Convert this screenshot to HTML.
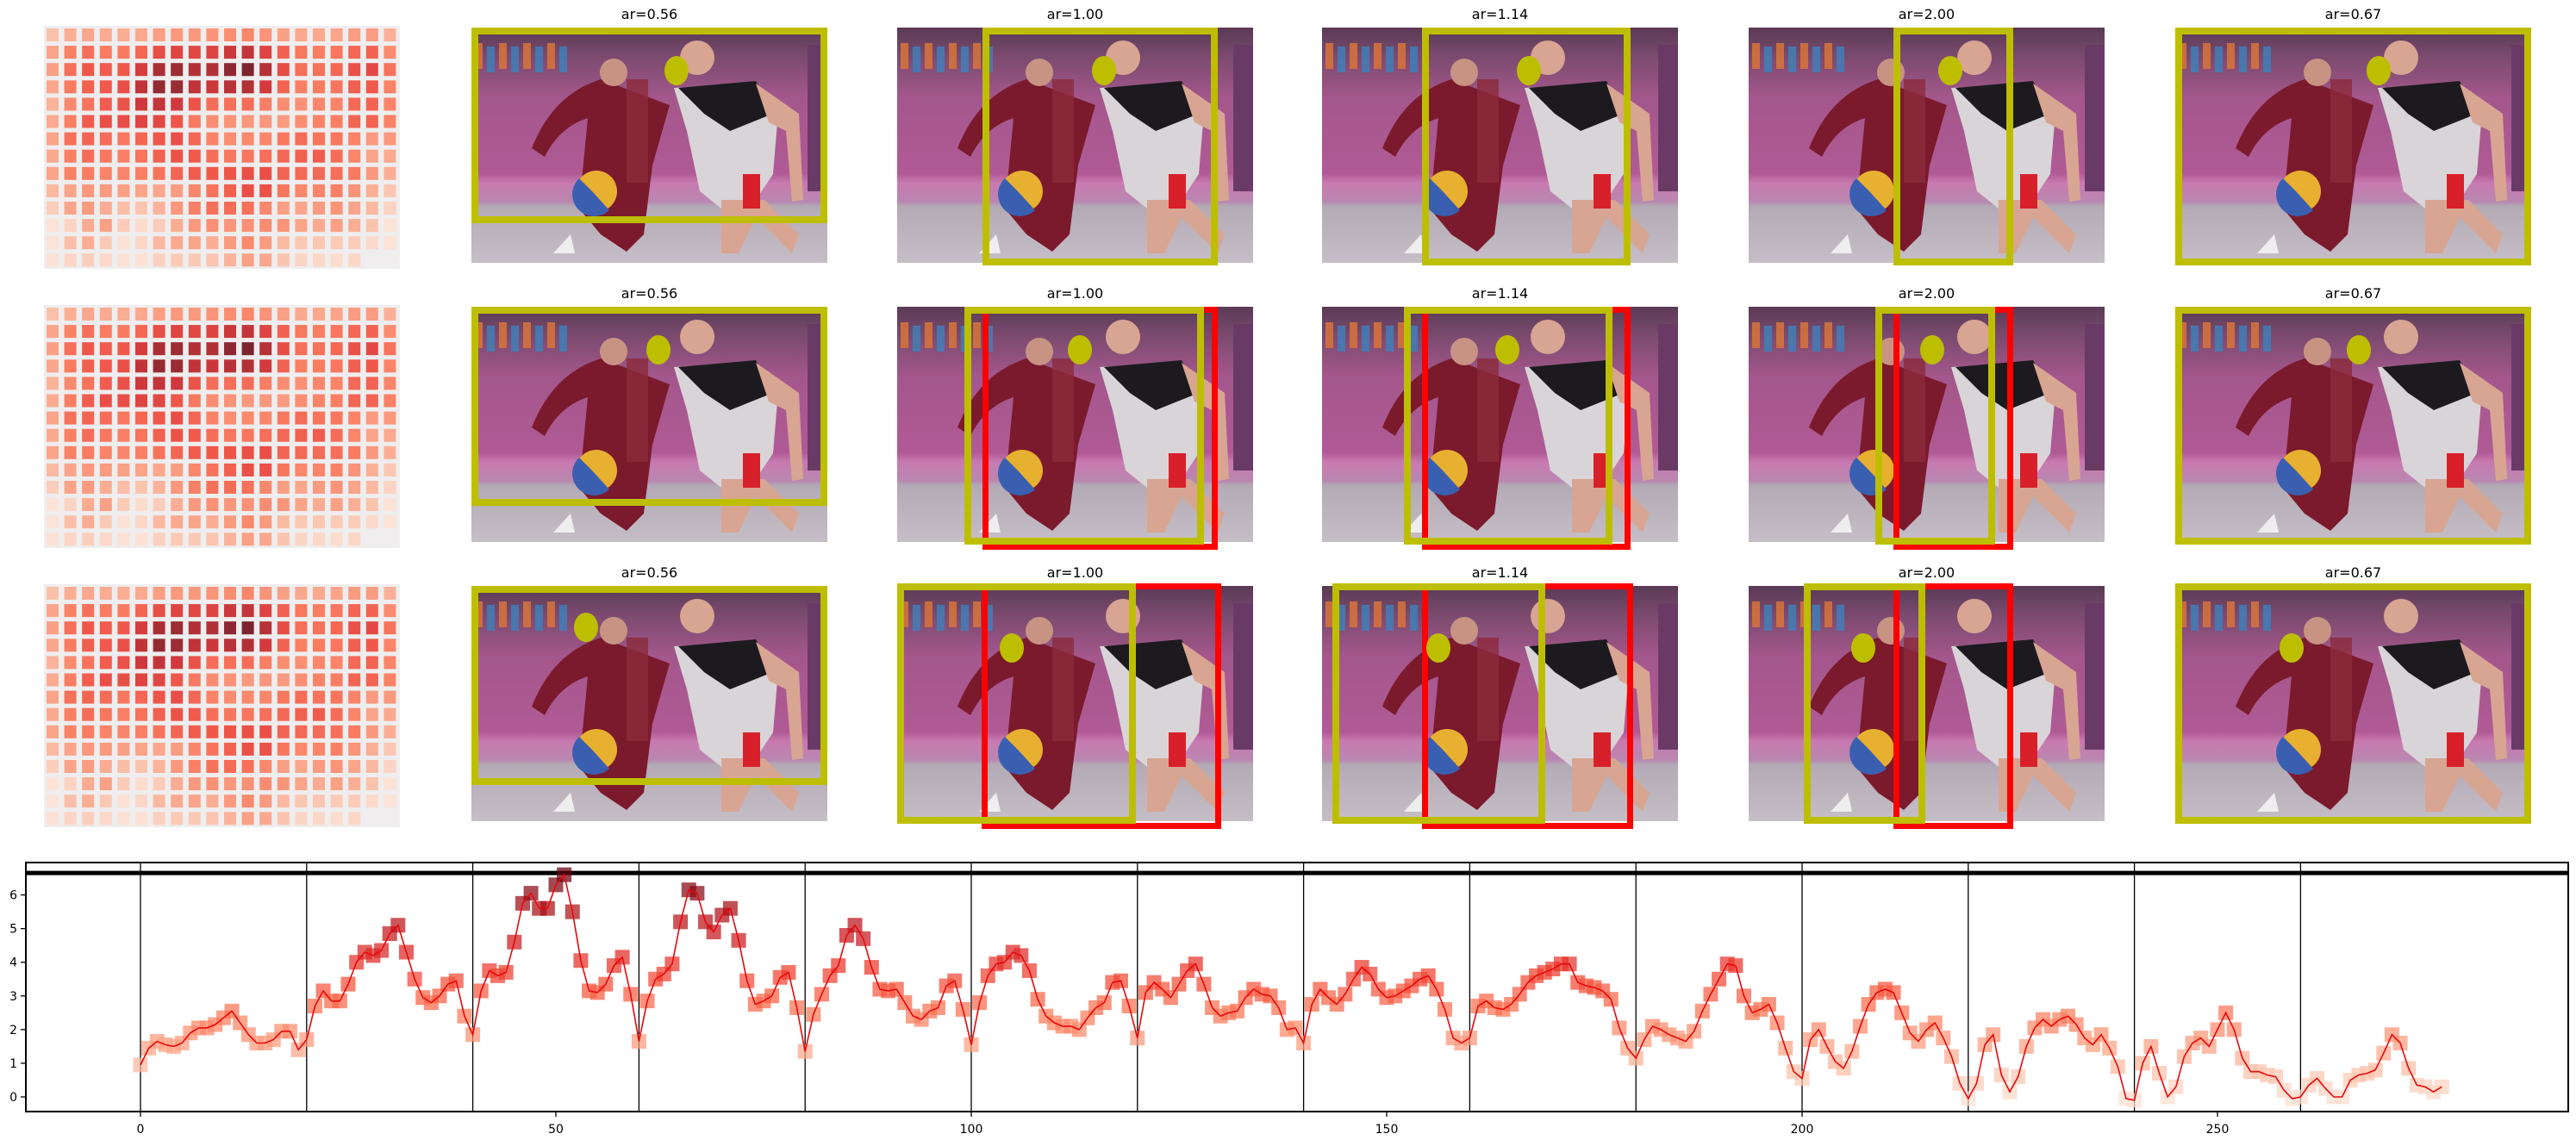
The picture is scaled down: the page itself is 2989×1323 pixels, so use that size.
<!DOCTYPE html>
<html><head><meta charset="utf-8"><style>
html,body{margin:0;padding:0;background:#fff}
svg{display:block}
text{font-family:"DejaVu Sans","Liberation Sans",sans-serif}
</style></head><body>
<svg id="fig" width="2989" height="1323" viewBox="0 0 2989 1323" xmlns="http://www.w3.org/2000/svg">
<defs>
<linearGradient id="bgGrad" x1="0" y1="0" x2="0" y2="1">
<stop offset="0" stop-color="#5a3a55"/><stop offset="0.12" stop-color="#7a4a6e"/>
<stop offset="0.3" stop-color="#a4578c"/><stop offset="0.62" stop-color="#b05a95"/>
<stop offset="0.66" stop-color="#c87ab0"/><stop offset="0.74" stop-color="#b987b0"/>
<stop offset="0.76" stop-color="#b3aab5"/><stop offset="1" stop-color="#c6bec6"/>
</linearGradient>
</defs>
<g id="topPanels"></g>
<g id="chart"></g>
</svg>
<script>
// ---- data ----
const steps = [];
const scores = [0.95,1.45,1.65,1.55,1.5,1.6,1.9,2.05,2.05,2.15,2.35,2.55,2.2,1.85,1.6,1.6,1.7,1.95,1.95,1.4,
1.7,2.7,3.15,2.85,2.85,3.35,4.0,4.3,4.2,4.35,4.85,5.1,4.3,3.5,2.95,2.8,3.0,3.35,3.45,2.4,
1.85,3.15,3.75,3.6,3.7,4.6,5.75,6.05,5.6,5.6,6.3,6.6,5.5,4.05,3.15,3.1,3.35,3.9,4.15,3.05,
1.65,2.85,3.5,3.65,3.95,5.2,6.15,6.05,5.2,4.9,5.4,5.6,4.65,3.45,2.75,2.85,3.0,3.55,3.7,2.65,
1.35,2.45,3.05,3.6,3.9,4.8,5.1,4.7,3.85,3.2,3.15,3.2,2.8,2.4,2.3,2.55,2.65,3.3,3.45,2.6,
1.55,2.8,3.6,3.95,4.0,4.3,4.2,3.75,2.9,2.4,2.2,2.1,2.1,2.0,2.35,2.65,2.8,3.4,3.45,2.7,
1.75,3.1,3.4,3.2,2.95,3.35,3.75,3.95,3.35,2.65,2.4,2.5,2.55,2.95,3.2,3.05,3.0,2.65,2.0,2.05,
1.6,2.75,3.2,2.95,2.75,3.05,3.5,3.85,3.65,3.2,2.95,3.0,3.15,3.3,3.5,3.6,3.2,2.6,1.75,1.6,
1.75,2.7,2.85,2.65,2.6,2.75,3.05,3.4,3.6,3.7,3.8,3.95,3.95,3.4,3.3,3.25,3.15,2.9,2.05,1.45,
1.15,1.7,2.1,2.0,1.85,1.75,1.65,1.95,2.55,3.05,3.5,3.95,3.9,3.0,2.5,2.6,2.75,2.2,1.45,0.75,
0.55,1.7,2.0,1.5,1.05,0.85,1.35,2.1,2.75,3.1,3.2,3.1,2.5,1.9,1.65,2.0,2.2,1.75,1.2,0.4,
-0.05,0.4,1.55,1.85,0.65,0.15,0.6,1.5,2.05,2.3,2.1,2.3,2.4,2.15,1.75,1.55,1.85,1.45,0.9,-0.05,
-0.1,1.0,1.5,0.7,0.0,0.3,1.2,1.6,1.75,1.5,2.0,2.5,2.0,1.15,0.75,0.75,0.65,0.6,0.2,-0.05,
0.0,0.35,0.55,0.25,0.0,0.0,0.5,0.65,0.7,0.8,1.3,1.85,1.6,0.85,0.35,0.3,0.15,0.3];
for (let i=0;i<scores.length;i++) steps.push(i);
const xTicks = [0,50,100,150,200,250];
const yTicks = [0,1,2,3,4,5,6];
const vlines = [0,20,40,60,80,100,120,140,160,180,200,220,240,260];
const thresholdValue = 6.65;
const arLabels = ["ar=0.56","ar=1.00","ar=1.14","ar=2.00","ar=0.67"];

const NS="http://www.w3.org/2000/svg";
function mk(tag,attrs,parent){const e=document.createElementNS(NS,tag);for(const k in attrs)e.setAttribute(k,attrs[k]);parent.appendChild(e);return e;}
const REDS=[[255,245,240],[254,224,210],[252,187,161],[252,146,114],[251,106,74],[239,59,44],[203,24,29],[165,15,21],[103,0,13]];
function reds(t){t=Math.max(0,Math.min(1,t));const p=t*(REDS.length-1);const i=Math.min(REDS.length-2,Math.floor(p));const f=p-i;
const c=REDS[i].map((v,k)=>Math.round(v+(REDS[i+1][k]-v)*f));return `rgb(${c[0]},${c[1]},${c[2]})`;}
const vmax=Math.max(...scores), vmin=Math.min(...scores);
function norm(v){return 0.12+0.88*(v-vmin)/(vmax-vmin);}

// ---- chart ----
const chart=document.getElementById('chart');
const AX={l:30,r:2980,t:1001,b:1290};
const sx=v=>163+9.64*v;
const sy=v=>1273-39.07*v;
const frame=mk('rect',{x:AX.l,y:AX.t,width:AX.r-AX.l,height:AX.b-AX.t,fill:'none',stroke:'#000','stroke-width':2},chart);


vlines.forEach(v=>{const l=mk('line',{x1:sx(v),x2:sx(v),y1:AX.t,y2:AX.b,stroke:'#000','stroke-width':1.3},chart);

});
const th=mk('line',{x1:AX.l,x2:AX.r,y1:sy(thresholdValue),y2:sy(thresholdValue),stroke:'#000','stroke-width':5},chart);


scores.forEach((v,i)=>{const s=17;const m=mk('rect',{x:sx(steps[i])-s/2,y:sy(v)-s/2,width:s,height:s,fill:reds(norm(v)),'fill-opacity':0.72},chart);

});
const pl=mk('polyline',{points:scores.map((v,i)=>sx(steps[i])+','+sy(v)).join(' '),fill:'none',stroke:'#e8080c','stroke-width':1.6},chart);


xTicks.forEach(v=>{mk('line',{x1:sx(v),x2:sx(v),y1:AX.b,y2:AX.b+6,stroke:'#000','stroke-width':1.3},chart);
const t=mk('text',{x:sx(v),y:AX.b+25,'font-size':14,'text-anchor':'middle',fill:'#000'},chart);t.textContent=v;

});
yTicks.forEach(v=>{mk('line',{x1:AX.l-6,x2:AX.l,y1:sy(v),y2:sy(v),stroke:'#000','stroke-width':1.3},chart);
const t=mk('text',{x:AX.l-10,y:sy(v)+5,'font-size':14,'text-anchor':'end',fill:'#000'},chart);t.textContent=v;

});

// ---- top panels ----
const topG=document.getElementById('topPanels');
const colX=[547,1041,1534,2029,2524];
const rowY=[32,356,680];
const IW=413,IH=273;
const boxes=[
[[0,413,0,227,null,null,238,50],[99,372,0,276,null,null,240,50],[116,358,0,276,null,null,240,50],[168,307,0,276,null,null,234,50],[0,413,0,276,null,null,236,50]],
[[0,413,0,231,null,null,217,50],[78,356,0,276,99,372,212,50],[95,337,0,276,116,358,215,50],[147,286,0,276,168,307,213,50],[0,413,0,276,null,null,213,50]],
[[0,413,0,231,null,null,133,48],[0,277,-3,276,98,376,133,72],[12,259,-3,276,116,361,135,72],[64,205,-3,276,168,307,133,72],[0,413,-3,276,null,null,135,72]]];

function drawPhoto(g,x,y){
 const cid='c'+x+'_'+y;
 const cp=mk('clipPath',{id:cid},g);mk('rect',{x:x,y:y,width:IW,height:IH},cp);
 const p=mk('g',{'clip-path':`url(#${cid})`},g);
 
 
 mk('rect',{x:x,y:y,width:IW,height:IH,fill:'url(#bgGrad)'},p);
 for(let i=0;i<8;i++){mk('rect',{x:x+4+i*14,y:y+18+(i%2)*4,width:9,height:30,fill:i%2?'#3f7fb8':'#d8743a',opacity:0.85},p);}
 mk('rect',{x:x+390,y:y+20,width:23,height:170,fill:'#6a3a66'},p);
 mk('path',{d:`M${x+150},${y+60} C${x+120},${y+70} ${x+90},${y+90} ${x+70},${y+140} L${x+85},${y+150} C${x+100},${y+120} ${x+120},${y+110} ${x+135},${y+105} L${x+125},${y+210} L${x+150},${y+240} L${x+180},${y+260} L${x+200},${y+240} L${x+210},${y+160} L${x+230},${y+90} Z`,fill:'#7a1a2c'},p);
 mk('circle',{cx:x+165,cy:y+52,r:16,fill:'#c99383'},p);
 mk('rect',{x:x+180,y:y+60,width:25,height:120,fill:'#8c2a3c',opacity:0.8},p);
 mk('path',{d:`M${x+235},${y+70} L${x+330},${y+65} L${x+355},${y+110} L${x+350},${y+170} L${x+330},${y+200} L${x+290},${y+210} L${x+265},${y+190} L${x+250},${y+120} Z`,fill:'#d9d4d8'},p);
 mk('path',{d:`M${x+240},${y+70} L${x+330},${y+62} L${x+350},${y+100} L${x+300},${y+120} L${x+270},${y+100} Z`,fill:'#1c1a1e'},p);
 mk('circle',{cx:x+262,cy:y+35,r:20,fill:'#d8a592'},p);
 mk('path',{d:`M${x+330},${y+65} L${x+380},${y+100} L${x+385},${y+200} L${x+372},${y+202} L${x+365},${y+120} L${x+345},${y+110} Z`,fill:'#d8a592'},p);
 mk('path',{d:`M${x+290},${y+200} L${x+340},${y+200} L${x+380},${y+240} L${x+372},${y+262} L${x+330},${y+220} L${x+310},${y+262} L${x+290},${y+262} Z`,fill:'#d8a592'},p);
 mk('rect',{x:x+315,y:y+170,width:20,height:40,fill:'#d8202a'},p);
 mk('circle',{cx:x+145,cy:y+190,r:24,fill:'#e8b030'},p);
 mk('path',{d:`M${x+125},${y+175} A24,24 0 0,0 ${x+160},${y+212} L${x+140},${y+190} Z`,fill:'#3a5fb0'},p);
 mk('path',{d:`M${x+95},${y+262} L${x+120},${y+262} L${x+115},${y+240} Z`,fill:'#eee'},p);
}
function drawHeat(g,x0,y0){
 const bg=mk('rect',{x:x0,y:y0,width:413,height:282,fill:'#efedee'},g);
 
 
 scores.forEach((v,i)=>{const r=Math.floor(i/20),c=i%20;
  const cell=mk('rect',{x:x0+3+c*20.6,y:y0+3+r*20.1,width:14,height:15,fill:reds(norm(v)),'fill-opacity':0.85},g);
  
  });
}
for(let r=0;r<3;r++){
 const hg=mk('g',{},topG);
 
 
 drawHeat(hg,51,rowY[r]-2);
 for(let c=0;c<5;c++){
  const g=mk('g',{},topG);
  
  
  const x=colX[c],y=rowY[r];
  const t=mk('text',{x:x+IW/2,y:y-10,'font-size':16,'text-anchor':'middle',fill:'#000'},g);
  t.textContent=arLabels[c];
  
  
  drawPhoto(g,x,y);
  const b=boxes[r][c];
  if(b[4]!==null){const rb=mk('rect',{x:x+b[4]+3.5,y:y+b[2]+3.5,width:b[5]-b[4]-7,height:b[3]-b[2]-7+6,fill:'none',stroke:'#f00','stroke-width':7},g);
   
   }
  const yb=mk('rect',{x:x+b[0]+4,y:y+b[2]+4,width:b[1]-b[0]-8,height:b[3]-b[2]-8,fill:'none',stroke:'#bebe00','stroke-width':8},g);
  
  
  const d=mk('ellipse',{cx:x+b[6],cy:y+b[7],rx:14,ry:17,fill:'#bebe00'},g);
  
  
 }
}
</script>
</body></html>
